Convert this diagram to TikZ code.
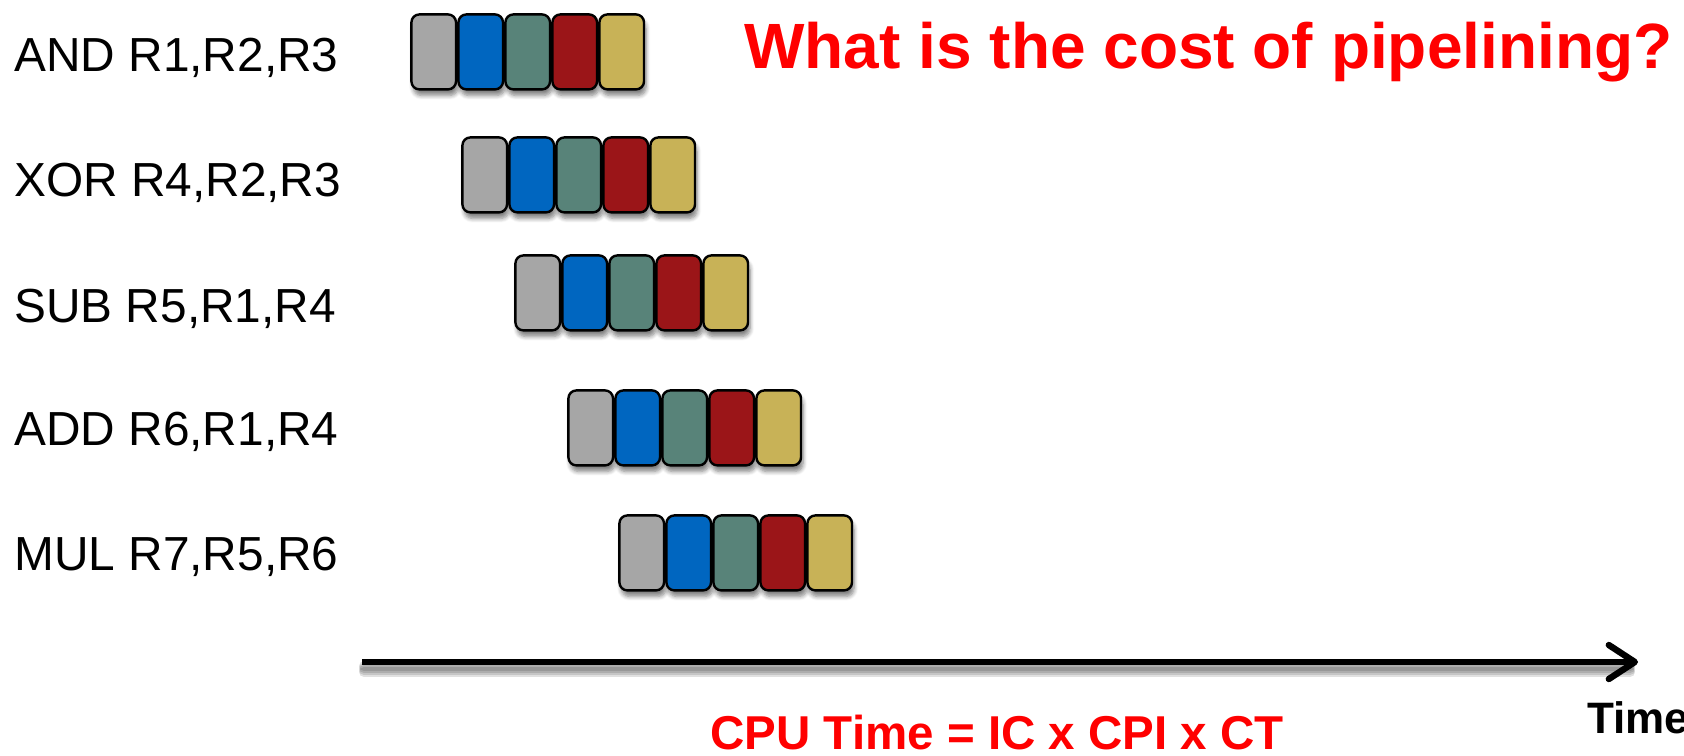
\documentclass[tikz,border=0pt]{standalone}
\usepackage{fontspec}
\setmainfont{Liberation Sans}
\usetikzlibrary{arrows.meta,shadows.blur}

% pipeline stage colours
\definecolor{stIF}{RGB}{166,166,166}
\definecolor{stID}{RGB}{0,102,192}
\definecolor{stEX}{RGB}{88,131,121}
\definecolor{stMEM}{RGB}{155,21,24}
\definecolor{stWB}{RGB}{200,178,87}
\definecolor{alertred}{RGB}{255,0,0}

\begin{document}
\begin{tikzpicture}[x=0.5pt,y=-0.5pt,
  stage/.style={draw=black, line width=1.2pt, rounded corners=4pt,
    minimum width=22.3pt, minimum height=37.5pt, inner sep=0pt,
    anchor=north west,
    blur shadow={shadow xshift=1pt, shadow yshift=-3pt,
      shadow opacity=50, shadow blur steps=6}},
  instr/.style={anchor=base west, inner sep=0pt,
    font=\fontsize{23.9pt}{28pt}\selectfont},
  headline/.style={anchor=base west, inner sep=0pt, text=alertred,
    font=\bfseries\fontsize{32pt}{38pt}\selectfont},
  formula/.style={anchor=base west, inner sep=0pt, text=alertred,
    font=\bfseries\fontsize{23.75pt}{28pt}\selectfont},
  axislabel/.style={anchor=base west, inner sep=0pt,
    font=\bfseries\fontsize{22pt}{26pt}\selectfont},
  timeaxis/.style={line width=3.2pt,
    -{Straight Barb[length=13pt,width=17pt,round]}},
  axisshadow/.style={line width=5pt, line cap=round, black, opacity=0.12}
]
\useasboundingbox (0,0) rectangle (1684,755);

% instruction stream
\node[instr] (i1) at (14,71)  {AND R1,R2,R3};
\node[instr] (i2) at (14,196) {XOR R4,R2,R3};
\node[instr] (i3) at (14,322) {SUB R5,R1,R4};
\node[instr] (i4) at (14,445) {ADD R6,R1,R4};
\node[instr] (i5) at (14,570) {MUL R7,R5,R6};

% five pipeline stages per instruction, each row one cycle later
\foreach \r/\x/\y in {1/409/12, 2/460/135, 3/513/253, 4/566/388, 5/617/513} {
  \foreach \c [count=\i from 0] in {stIF,stID,stEX,stMEM,stWB} {
    \node[stage, fill=\c] (r\r s\i) at ({\x+47*\i+1.2},{\y+1.2}) {};
  }
}

% time axis
\coordinate (tstart) at (362,662);
\coordinate (tend) at (1638,662);
\foreach \d in {2,3,4,5}
  \draw[axisshadow] ([xshift=1pt,yshift=-\d pt]tstart) -- ([xshift=-4pt,yshift=-\d pt]tend);
\draw[timeaxis] (tstart) -- (tend);
\node[axislabel] (timelbl) at (1587,733) {Time};

% headline and formula
\node[headline] (title) at (744,68) {What is the cost of pipelining?};
\node[formula] (cpu) at (710,749) {CPU Time = IC x CPI x CT};
\end{tikzpicture}
\end{document}
